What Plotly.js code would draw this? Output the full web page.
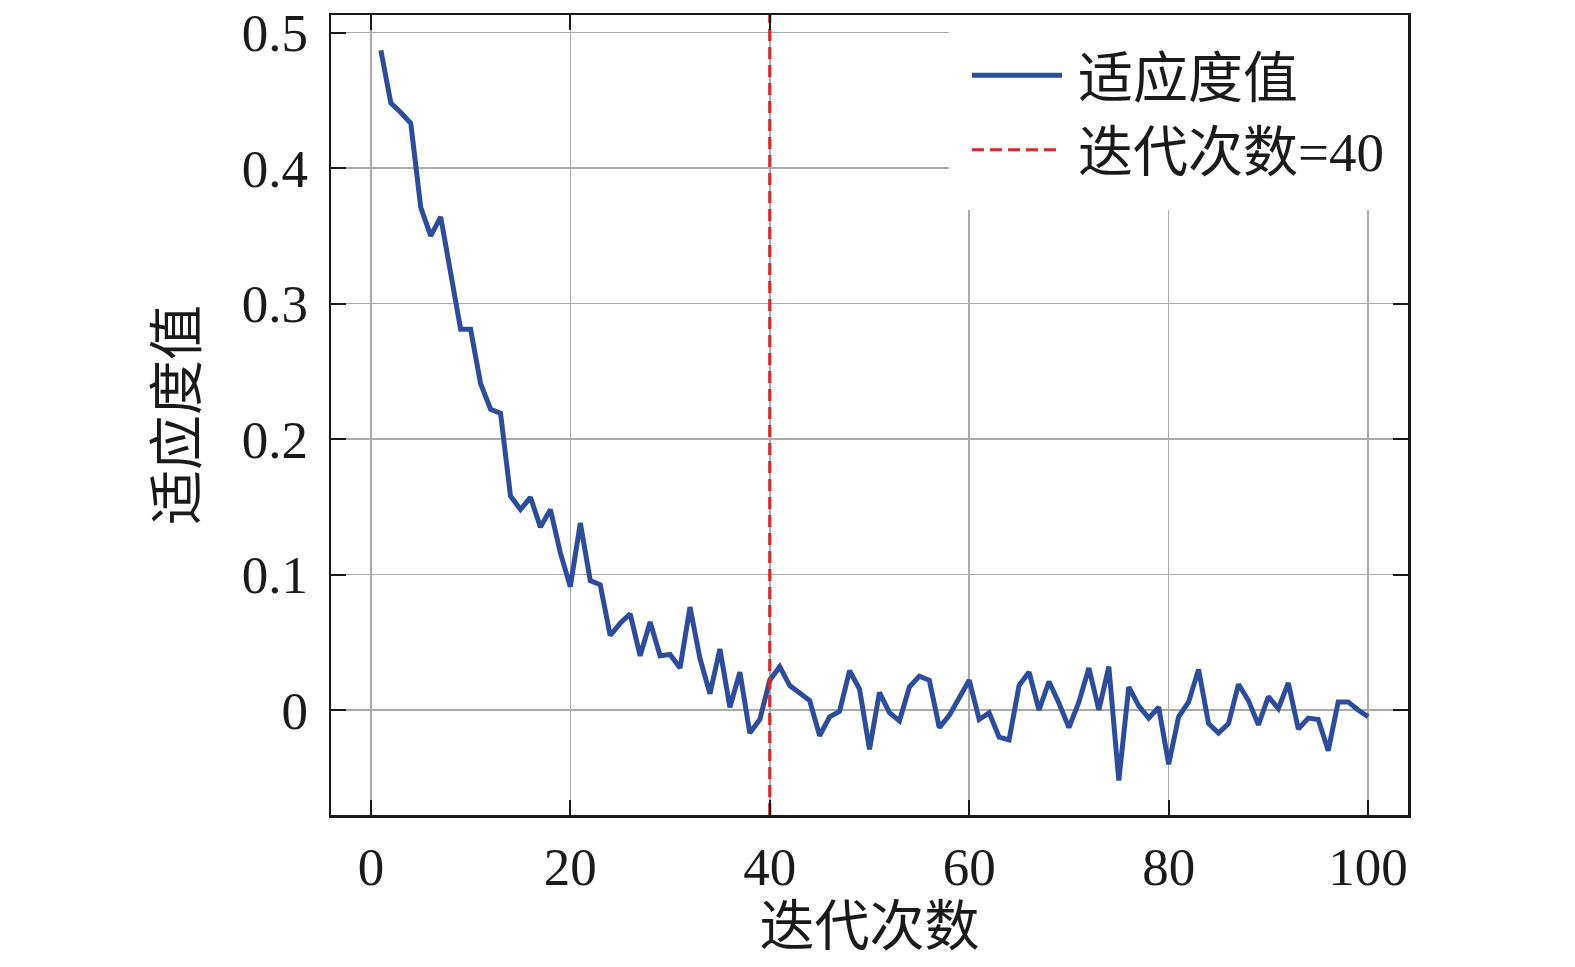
<!DOCTYPE html>
<html>
<head>
<meta charset="utf-8">
<script src="https://cdn.plot.ly/plotly-3.0.1.min.js"></script>
<style>
  html, body { margin: 0; padding: 0; background: #ffffff; }
  #chart { width: 1575px; height: 967px; }
</style>
</head>
<body>
<div id="chart"></div>
<script>
// Dữ liệu: số lần lặp và giá trị thích nghi
var iterations = [];
for (var i = 1; i <= 100; i++) iterations.push(i);

var fitness = [
  0.487, 0.448, 0.441, 0.433, 0.371, 0.350, 0.364, 0.322, 0.281, 0.281,
  0.241, 0.222, 0.219, 0.158, 0.148, 0.157, 0.135, 0.148, 0.116, 0.091,
  0.138, 0.0955, 0.0925, 0.055, 0.064, 0.071, 0.040, 0.065, 0.040, 0.041,
  0.031, 0.076, 0.038, 0.012, 0.045, 0.002, 0.028, -0.017, -0.007, 0.022,
  0.032, 0.018, 0.012, 0.007, -0.019, -0.005, -0.001, 0.029, 0.0155, -0.029,
  0.013, -0.002, -0.008, 0.017, 0.025, 0.022, -0.013, -0.004, 0.009, 0.022,
  -0.007, -0.002, -0.020, -0.022, 0.018, 0.028, 0.000, 0.021, 0.005, -0.013,
  0.006, 0.031, 0.000, 0.032, -0.052, 0.017, 0.003, -0.006, 0.002, -0.040,
  -0.005, 0.006, 0.030, -0.010, -0.017, -0.010, 0.019, 0.007, -0.011, 0.010,
  0.001, 0.020, -0.014, -0.006, -0.007, -0.030, 0.006, 0.006, 0.000, -0.005
];

var markIter = 40;                 // vạch đứng: 迭代次数=40
var xRange = [-4, 104];
var yRange = [-0.0775, 0.513];
var xTicks = [0, 20, 40, 60, 80, 100];
var yTicks = [0, 0.1, 0.2, 0.3, 0.4, 0.5];
var yTickText = ['0', '0.1', '0.2', '0.3', '0.4', '0.5'];

var fontFam = 'Liberation Serif, Times New Roman, Noto Sans CJK SC, serif';
var gap = '\u2009';                // khoảng cách giữa ký hiệu và chữ trong chú giải

var traceFit = {
  x: iterations,
  y: fitness,
  type: 'scatter',
  mode: 'lines',
  name: gap + '适应度值',
  line: { color: '#2E4C9D', width: 5 }
};

var traceMark = {
  x: [markIter, markIter],
  y: yRange,
  type: 'scatter',
  mode: 'lines',
  name: gap + '迭代次数=' + markIter,
  line: { color: '#D5282F', width: 3.2, dash: '12px,6px' }
};

var axisCommon = {
  showline: true,
  linecolor: '#1a1a1a',
  linewidth: 2.5,
  mirror: 'ticks',
  ticks: 'inside',
  ticklen: 15,
  tickwidth: 2,
  tickcolor: '#1a1a1a',
  showgrid: true,
  gridcolor: '#ababab',
  gridwidth: 1.5,
  zeroline: false,
  tickfont: { family: fontFam, size: 53, color: '#1a1a1a' }
};

var layout = {
  width: 1575,
  height: 967,
  margin: { l: 331, r: 167, t: 15, b: 152 },
  paper_bgcolor: '#ffffff',
  plot_bgcolor: '#ffffff',
  showlegend: true,
  legend: {
    x: 1, xanchor: 'right',
    y: 1, yanchor: 'top',
    bgcolor: '#ffffff',
    bordercolor: '#ffffff',
    borderwidth: 18,
    itemwidth: 90,
    font: { family: fontFam, size: 55, color: '#1a1a1a' }
  },
  xaxis: Object.assign({}, axisCommon, {
    range: xRange,
    tickmode: 'array',
    tickvals: xTicks,
    ticklabelstandoff: 4,
    title: { text: '迭代次数', font: { family: fontFam, size: 55, color: '#1a1a1a' }, standoff: 10 }
  }),
  yaxis: Object.assign({}, axisCommon, {
    range: yRange,
    tickmode: 'array',
    tickvals: yTicks,
    ticktext: yTickText,
    ticklabelstandoff: 10,
    title: { text: '适应度值', font: { family: fontFam, size: 55, color: '#1a1a1a' }, standoff: 28 }
  })
};

Plotly.newPlot('chart', [traceFit, traceMark], layout, { displayModeBar: false, staticPlot: true });
</script>
</body>
</html>
